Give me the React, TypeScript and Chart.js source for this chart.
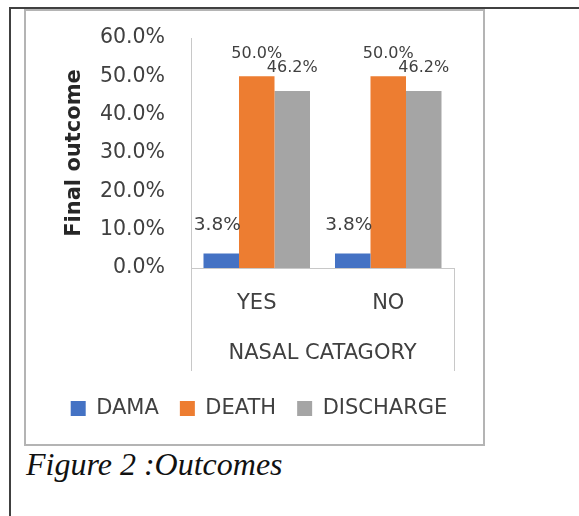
import React, { useEffect, useRef } from "react";
import { Chart, registerables } from "chart.js";

Chart.register(...registerables);

const categories = ["YES", "NO"];
const seriesNames = ["DAMA", "DEATH", "DISCHARGE"];
const damaValues = [3.8, 3.8];
const deathValues = [50.0, 50.0];
const dischargeValues = [46.2, 46.2];
const yTickValues = [0, 10, 20, 30, 40, 50, 60];
const xAxisTitle = "NASAL CATAGORY";
const yAxisTitle = "Final outcome";
const captionText = "Figure 2 :Outcomes";

const seriesColors = ["#4472C4", "#ED7D31", "#A5A5A5"];
const labelStyles = [
  { size: 18.5, dy: 28, dx: -4 },
  { size: 16, dy: 22, dx: 0 },
  { size: 16, dy: 23, dx: 0 },
];
const FONT = '"DejaVu Sans", sans-serif';
const TEXT = "#404040";
const AXIS = "#c8c8c8";

const boxLinesPlugin = {
  id: "boxLines",
  afterDraw(chart: any) {
    const { ctx, chartArea } = chart;
    ctx.save();
    ctx.strokeStyle = AXIS;
    ctx.lineWidth = 1;
    [chartArea.left, chartArea.right].forEach((x: number) => {
      const px = Math.round(x) + 0.5;
      ctx.beginPath();
      ctx.moveTo(px, chartArea.bottom);
      ctx.lineTo(px, chartArea.bottom + 103);
      ctx.stroke();
    });
    ctx.restore();
  },
};

const dataLabelPlugin = {
  id: "dataLabels",
  afterDatasetsDraw(chart: any) {
    const { ctx } = chart;
    ctx.save();
    ctx.fillStyle = TEXT;
    ctx.textAlign = "center";
    ctx.textBaseline = "middle";
    chart.data.datasets.forEach((ds: any, i: number) => {
      const st = labelStyles[i];
      ctx.font = `${st.size}px ${FONT}`;
      const meta = chart.getDatasetMeta(i);
      meta.data.forEach((bar: any, j: number) => {
        const v = ds.data[j] as number;
        ctx.fillText(v.toFixed(1) + "%", bar.x + st.dx, bar.y - st.dy);
      });
    });
    ctx.restore();
  },
};

export default function App() {
  const ref = useRef<HTMLCanvasElement>(null);

  useEffect(() => {
    if (!ref.current) return;
    const valueSets = [damaValues, deathValues, dischargeValues];
    const chart = new Chart(ref.current, {
      type: "bar",
      data: {
        labels: categories,
        datasets: seriesNames.map((name, i) => ({
          label: name,
          data: valueSets[i],
          backgroundColor: seriesColors[i],
          borderWidth: 0,
          categoryPercentage: 0.81,
          barPercentage: 1,
        })),
      },
      options: {
        animation: false,
        responsive: false,
        devicePixelRatio: 1,
        layout: { padding: { left: 18, right: 0, top: 27, bottom: 15 } },
        plugins: {
          tooltip: { enabled: false },
          legend: {
            position: "bottom",
            labels: {
              boxWidth: 15,
              boxHeight: 15,
              padding: 21,
              color: TEXT,
              font: { family: FONT, size: 21 },
            },
          },
        },
        scales: {
          x: {
            grid: { display: false, drawTicks: false },
            border: { display: true, color: AXIS, width: 1 },
            ticks: { color: TEXT, padding: 23, font: { family: FONT, size: 21 } },
            title: {
              display: true,
              text: xAxisTitle,
              color: TEXT,
              font: { family: FONT, size: 21 },
              padding: { top: 0, bottom: 10.7 },
            },
            afterFit(scale: any) {
              scale.height = 109;
            },
          },
          y: {
            min: 0,
            max: 60,
            grid: { display: false, drawTicks: false },
            border: { display: true, color: AXIS, width: 1 },
            afterBuildTicks(scale: any) {
              scale.ticks = yTickValues.map((v) => ({ value: v }));
            },
            ticks: {
              color: TEXT,
              padding: 26,
              font: { family: FONT, size: 20.5 },
              callback: (v: any) => Number(v).toFixed(1) + "%",
            },
            title: {
              display: true,
              text: yAxisTitle,
              color: "#262626",
              font: { family: FONT, size: 21, weight: "bold", lineHeight: 1 },
              padding: { top: 20, bottom: 0 },
            },
            afterFit(scale: any) {
              scale.width = 147;
              scale.paddingTop = 0;
              scale.paddingBottom = 0;
            },
          },
          ySpacer: {
            position: "right",
            display: true,
            grid: { display: false, drawTicks: false },
            border: { display: false },
            ticks: { display: false },
            afterFit(scale: any) {
              scale.width = 20;
              scale.paddingTop = 0;
              scale.paddingBottom = 0;
            },
          },
        },
      },
      plugins: [boxLinesPlugin, dataLabelPlugin],
    } as any);
    return () => chart.destroy();
  }, []);

  return (
    <div
      style={{
        position: "absolute",
        left: 0,
        top: 0,
        width: 579,
        height: 516,
        background: "#fff",
        overflow: "hidden",
      }}
    >
      <div style={{ position: "absolute", left: 9, top: 7, width: 570, height: 2, background: "#404040" }} />
      <div style={{ position: "absolute", left: 9, top: 7, width: 2, height: 509, background: "#404040" }} />
      <div
        style={{
          position: "absolute",
          left: 24,
          top: 9,
          width: 461,
          height: 437,
          border: "2px solid #b4b4b4",
          boxSizing: "border-box",
        }}
      />
      <canvas
        ref={ref}
        width={448}
        height={433}
        style={{ position: "absolute", left: 26, top: 11, width: 448, height: 433 }}
      />
      <div
        style={{
          position: "absolute",
          left: 26,
          top: 448,
          fontFamily: '"Liberation Serif", "Times New Roman", serif',
          fontStyle: "italic",
          fontSize: 32,
          lineHeight: "32px",
          color: "#111",
          whiteSpace: "nowrap",
        }}
      >
        {captionText}
      </div>
    </div>
  );
}
